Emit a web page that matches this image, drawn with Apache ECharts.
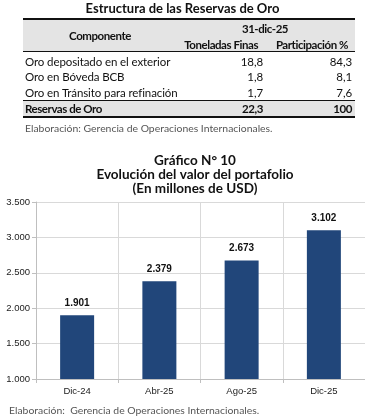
<!DOCTYPE html>
<html>
<head>
<meta charset="utf-8">
<script src="https://cdn.jsdelivr.net/npm/echarts@6/dist/echarts.min.js"></script>
<style>
  html, body { margin:0; padding:0; background:#fff; width:365px; height:419px; overflow:hidden; }
  #wrap { position:relative; width:365px; height:419px; font-family: Lato, "Noto Sans", sans-serif; color:#111; }
  .abs { position:absolute; white-space:nowrap; }
  .b { font-weight:bold; }
  .line { position:absolute; background:#111; }
  .gray { position:absolute; background:#e4e4e4; }
  #chart { position:absolute; left:0; top:0; width:365px; height:419px; }
</style>
</head>
<body>
<div id="wrap">
  <div id="chart"></div>
  <div id="table"></div>
</div>
<script>
// ---- Table data ----
const tableTitle = "Estructura de las Reservas de Oro";
const tableDate = "31-dic-25";
const tableHeaders = ["Componente", "Toneladas Finas", "Participación %"];
const rowNames = ["Oro depositado en el exterior", "Oro en Bóveda BCB", "Oro en Tránsito para refinación"];
const rowTons = ["18,8", "1,8", "1,7"];
const rowShare = ["84,3", "8,1", "7,6"];
const totalName = "Reservas de Oro";
const totalTons = "22,3";
const totalShare = "100";
const sourceNote = "Elaboración:  Gerencia de Operaciones Internacionales.";

// ---- Chart data ----
const chartTitles = ["Gráfico N° 10", "Evolución del valor del portafolio", "(En millones de USD)"];
const categories = ["Dic-24", "Abr-25", "Ago-25", "Dic-25"];
const values = [1901, 2379, 2673, 3102];
const yMin = 1000, yMax = 3500, yStep = 500;

// ---- Build table (HTML) ----
const T = document.getElementById('table');
function add(html, style, cls) {
  const d = document.createElement('div');
  d.className = cls || 'abs';
  d.style.cssText = style;
  d.innerHTML = html;
  T.appendChild(d);
  return d;
}
add('', 'left:23px;top:19px;width:332px;height:32px;', 'gray');
add('', 'left:23px;top:100px;width:332px;height:17px;', 'gray');
add('', 'left:23px;top:18px;width:332px;height:2px;', 'line');
add('', 'left:23px;top:51px;width:332px;height:1px;', 'line');
add('', 'left:23px;top:100px;width:332px;height:1px;', 'line');
add('', 'left:23px;top:116px;width:332px;height:2px;', 'line');

const hdr = 'font-size:11.5px;line-height:15px;letter-spacing:-0.45px;';
const cell = 'font-size:11.5px;line-height:15px;letter-spacing:-0.1px;';
add(tableTitle, 'left:0;width:365px;text-align:center;top:0px;font-size:13px;line-height:16px;', 'abs b');
add(tableHeaders[0], 'left:40px;width:120px;text-align:center;top:28px;' + hdr, 'abs b');
add(tableDate, 'left:215px;width:100px;text-align:center;top:21px;' + hdr, 'abs b');
add(tableHeaders[1], 'left:160px;width:98px;text-align:right;top:37px;' + hdr, 'abs b');
add(tableHeaders[2], 'left:250px;width:98px;text-align:right;top:37px;' + hdr, 'abs b');
const rowY = [54, 69, 85];
rowNames.forEach((n, i) => {
  add(n, `left:25px;top:${rowY[i]}px;` + cell);
  add(rowTons[i], `left:200px;width:63px;text-align:right;top:${rowY[i]}px;` + cell);
  add(rowShare[i], `left:290px;width:62px;text-align:right;top:${rowY[i]}px;` + cell);
});
add(totalName, 'left:25px;top:101px;' + hdr, 'abs b');
add(totalTons, 'left:200px;width:63px;text-align:right;top:101px;' + hdr, 'abs b');
add(totalShare, 'left:290px;width:62px;text-align:right;top:101px;' + hdr, 'abs b');
add(sourceNote, 'left:25px;top:122px;font-size:10.4px;line-height:12px;color:#555;');

// ---- Chart ----
const chart = echarts.init(document.getElementById('chart'), null, {renderer:'canvas'});
chart.setOption({
  animation:false,
  title: chartTitles.map((t, i) => ({
    text: t, left: 190, textAlign:'center', top: 149 + i*14,
    textStyle:{ fontFamily:'Lato', fontWeight:'bold', fontSize:13.5, color:'#111', lineHeight:14 }
  })).concat([{
    text: sourceNote, left: 4, top: 401,
    textStyle:{ fontFamily:'Lato', fontWeight:'normal', fontSize:10.4, color:'#555' }
  }]),
  grid:{ left:36, top:202, width:334, bottom:40, containLabel:false },
  xAxis:{
    type:'category', data:categories,
    axisLine:{ lineStyle:{ color:'#bfbfbf' } },
    axisTick:{ show:true, alignWithLabel:false, length:4, lineStyle:{ color:'#bfbfbf' } },
    splitLine:{ show:true, lineStyle:{ color:'#d9d9d9' } },
    axisLabel:{ fontFamily:'Liberation Sans', fontSize:9.5, color:'#222', margin:7 }
  },
  yAxis:{
    type:'value', min:yMin, max:yMax, interval:yStep,
    axisLine:{ show:true, lineStyle:{ color:'#bfbfbf' } },
    axisTick:{ show:true, length:4, lineStyle:{ color:'#bfbfbf' } },
    splitLine:{ lineStyle:{ color:'#d9d9d9' } },
    axisLabel:{ fontFamily:'Liberation Sans', fontSize:9.5, color:'#222', margin:6,
      formatter: v => v.toLocaleString('de-DE') }
  },
  series:[{
    type:'bar', data:values, barWidth:34,
    itemStyle:{ color:'#21467a' },
    label:{ show:true, position:'top', distance:7, fontFamily:'Liberation Sans', fontWeight:'bold', fontSize:10, color:'#111',
      formatter: p => p.value.toLocaleString('de-DE') }
  }]
});
</script>
</body>
</html>
